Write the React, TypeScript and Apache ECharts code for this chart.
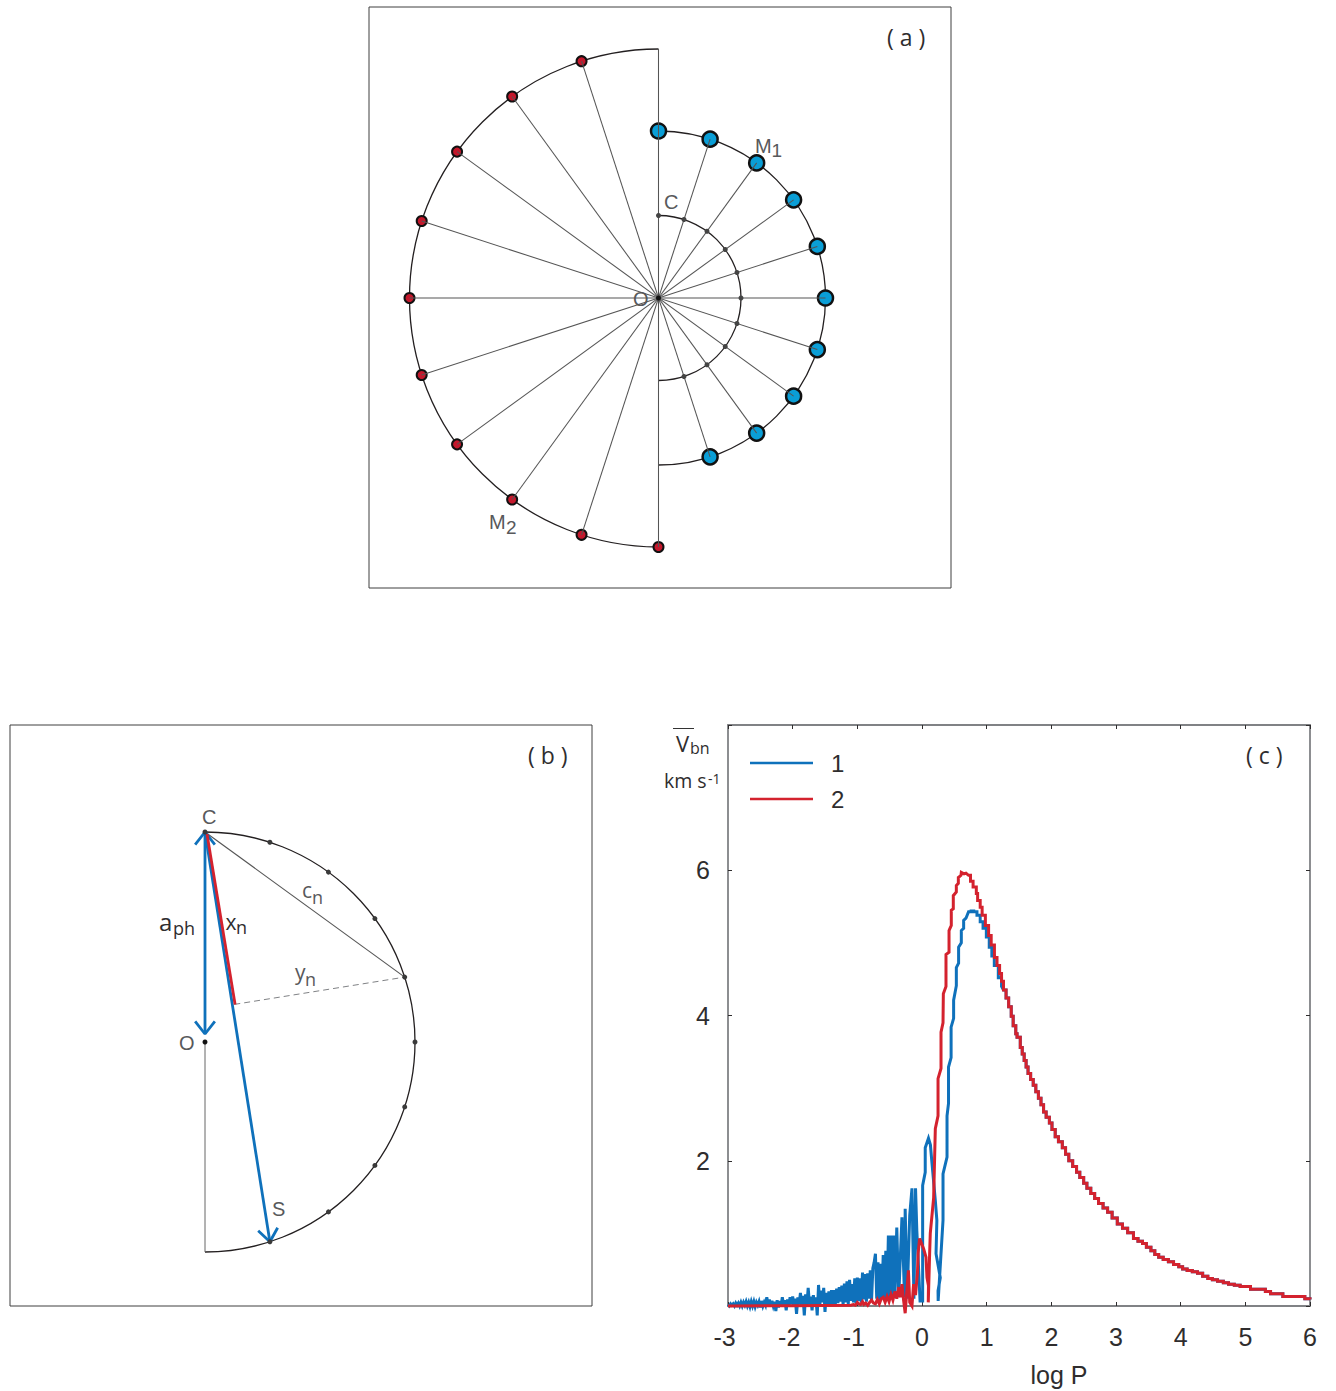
import React, { useEffect, useRef } from "react";
import * as echarts from "echarts";

// ---------- panel (a) and (b): orbit geometry, one unit = one picture pixel ----------
const phasesM1 = [0, 18, 36, 54, 72, 90, 108, 126, 144, 162];
const phasesM2 = [180, 198, 216, 234, 252, 270, 288, 306, 324, 342];
const radiusM1 = 167;
const radiusM2 = 249;
const radiusC = 82.5;
const radiusB = 210;
const phaseN = 72;
const phaseS = 162;

// ---------- panel (c) ----------
const xTickLabels = [-3, -2, -1, 0, 1, 2, 3, 4, 5, 6];
const yTickLabels = [2, 4, 6];
const blueNoiseStart = -3;
const blueNoiseStep = 0.02;
const blueNoiseV = [
  0.02, 0.0, 0.03, 0.01, 0.03, 0.0, 0.04, 0.01, 0.04, 0.0,
  0.05, 0.0, 0.05, 0.01, 0.06, 0.0, 0.05, -0.01, 0.06, 0.0,
  0.06, -0.01, 0.05, 0.01, 0.06, -0.02, 0.07, 0.0, 0.05, 0.01,
  0.12, 0.02, 0.09, -0.01, 0.07, 0.0, 0.06, -0.07, 0.08, -0.02,
  0.07, 0.0, 0.12, 0.01, 0.08, -0.06, 0.09, 0.0, 0.12, 0.02,
  0.13, 0.0, 0.1, -0.11, 0.12, 0.02, 0.18, 0.0, 0.14, -0.13,
  0.16, 0.01, 0.25, 0.02, 0.13, -0.06, 0.15, 0.0, 0.12, -0.13,
  0.29, 0.02, 0.21, 0.05, 0.25, -0.08, 0.18, 0.01, 0.2, 0.0,
  0.22, 0.01, 0.22, 0.03, 0.24, 0.04, 0.26, 0.06, 0.28, 0.02,
  0.31, 0.05, 0.34, 0.03, 0.36, 0.07, 0.3, 0.05, 0.38, 0.04,
  0.39, 0.07, 0.38, 0.05, 0.46, 0.09, 0.44, 0.06, 0.45, 0.1,
  0.49, 0.08, 0.52, 0.6, 0.72, 0.1, 0.6, 0.08, 0.58, 0.1,
  0.7, 0.09, 0.76, 0.12, 0.97, 0.1, 0.97, 0.14, 0.97, 0.12,
];
const blueRiseX = [-0.39, -0.36, -0.31, -0.27, -0.26, -0.23, -0.19, -0.155, -0.125, -0.1, -0.08, -0.03, 0.01, 0.01, 0.05, 0.05, 0.1, 0.13, 0.155, 0.206, 0.23, 0.217, 0.283, 0.248, 0.25, 0.325, 0.325, 0.387, 0.387, 0.41, 0.41, 0.45, 0.45, 0.489, 0.489, 0.531, 0.531, 0.566, 0.566, 0.608, 0.608, 0.644, 0.644, 0.68];
const blueRiseV = [1.08, 0.12, 1.22, 0.12, 1.34, 0.1, 1.25, 1.62, 0.1, 1.62, 1.04, 0.07, 0.07, 1.66, 1.84, 2.18, 2.31, 2.22, 1.96, 1.45, 1.18, 0.72, 0.39, 0.21, 0.07, 1.18, 1.82, 2.05, 2.62, 2.79, 3.29, 3.42, 3.84, 3.96, 4.21, 4.41, 4.66, 4.72, 4.94, 5.0, 5.17, 5.2, 5.31, 5.34];
const bluePeakX = [0.72, 0.76, 0.8, 0.85, 0.9, 0.944, 0.995, 1.04, 1.08, 1.118, 1.18, 1.23];
const bluePeakV = [5.43, 5.44, 5.43, 5.38, 5.29, 5.2, 5.08, 4.94, 4.82, 4.69, 4.52, 4.4];

const redRiseX = [-3, -2, -1.1, -1.06, -1.03, -1.0, -0.98, -0.95, -0.92, -0.9, -0.87, -0.84, -0.81, -0.78, -0.75, -0.72, -0.69, -0.66, -0.63, -0.6, -0.57, -0.54, -0.51, -0.48, -0.45, -0.42, -0.39, -0.36, -0.335, -0.31, -0.285, -0.26, -0.235, -0.21, -0.19, -0.155, -0.13, -0.1, -0.07, -0.06, -0.037, 0.025, 0.062, 0.077, 0.1, 0.097, 0.118, 0.128, 0.18, 0.206, 0.248, 0.248, 0.294, 0.294, 0.325, 0.33, 0.371, 0.371, 0.418, 0.418, 0.453, 0.453, 0.484, 0.484, 0.531, 0.531, 0.562, 0.562, 0.603, 0.608, 0.65, 0.68];
const redRiseV = [0.0, 0.005, 0.01, 0.02, 0.01, 0.05, 0.03, 0.02, 0.06, 0.02, 0.04, 0.01, 0.05, 0.08, 0.04, 0.03, 0.09, 0.03, 0.1, 0.12, 0.05, 0.13, 0.06, 0.16, 0.08, 0.2, 0.1, 0.26, 0.12, 0.3, 0.08, -0.1, 0.2, 0.49, 0.05, 0.0, 0.3, 0.15, 0.46, 0.72, 0.93, 0.79, 0.67, 0.39, 0.28, 0.05, 0.72, 1.0, 1.49, 2.44, 2.62, 3.13, 3.27, 3.77, 3.9, 4.3, 4.4, 4.84, 4.87, 5.17, 5.24, 5.45, 5.47, 5.65, 5.7, 5.79, 5.82, 5.9, 5.93, 5.97, 5.95, 5.96];

const declineX = [0.72, 0.75, 0.79, 0.84, 0.86, 0.9, 0.93, 0.98, 1.03, 1.07, 1.12, 1.16, 1.2, 1.23, 1.26, 1.3, 1.34, 1.38, 1.41, 1.45, 1.47, 1.52, 1.55, 1.58, 1.61, 1.64, 1.68, 1.72, 1.76, 1.8, 1.84, 1.88, 1.92, 1.97, 2.01, 2.06, 2.11, 2.17, 2.22, 2.27, 2.33, 2.39, 2.44, 2.5, 2.55, 2.61, 2.67, 2.73, 2.8, 2.87, 2.94, 3.02, 3.1, 3.18, 3.27, 3.34, 3.41, 3.47, 3.54, 3.6, 3.66, 3.73, 3.81, 3.89, 3.97, 4.03, 4.1, 4.18, 4.26, 4.34, 4.42, 4.49, 4.57, 4.66, 4.74, 4.83, 4.92, 5.08, 5.31, 5.39, 5.58, 5.92, 6.0];
const declineV = [5.93, 5.85, 5.77, 5.68, 5.585, 5.49, 5.38, 5.24, 5.1, 4.97, 4.8, 4.69, 4.58, 4.47, 4.35, 4.24, 4.12, 3.99, 3.86, 3.75, 3.7, 3.56, 3.47, 3.38, 3.29, 3.2, 3.12, 3.04, 2.95, 2.86, 2.77, 2.67, 2.6, 2.52, 2.43, 2.33, 2.26, 2.18, 2.09, 2.0, 1.92, 1.84, 1.77, 1.69, 1.62, 1.55, 1.48, 1.41, 1.35, 1.29, 1.21, 1.13, 1.07, 1.01, 0.93, 0.89, 0.86, 0.81, 0.76, 0.71, 0.67, 0.64, 0.61, 0.57, 0.54, 0.51, 0.49, 0.47, 0.45, 0.41, 0.38, 0.36, 0.34, 0.32, 0.3, 0.285, 0.27, 0.23, 0.2, 0.17, 0.13, 0.1, 0.09];

// ---------- styles ----------
const SANS = "Liberation Sans";
const MYRIAD = "Open Sans";
const GRAY_TXT = "#58595b";
const DARK_TXT = "#2f2d2e";
const BLUE = "#0f71bb";
const RED = "#d4222e";
const SPOKE = "#555555";

const polar = (r: number, deg: number): number[] => {
  const a = (deg * Math.PI) / 180;
  return [r * Math.sin(a), r * Math.cos(a)];
};
const stairs = (xs: number[], vs: number[]): number[][] => {
  const out: number[][] = [];
  xs.forEach((x, i) => {
    out.push([x, vs[i]]);
    if (i + 1 < xs.length) out.push([xs[i + 1], vs[i]]);
  });
  return out;
};
const zip = (xs: number[], vs: number[]) => xs.map((x, i) => [x, vs[i]]);

const arcRender = (stroke: string, width: number) => (_: any, api: any) => {
  const c = api.coord([api.value(0), api.value(1)]);
  const r = api.size([api.value(2), 0])[0];
  return {
    type: "arc",
    shape: {
      cx: c[0],
      cy: c[1],
      r,
      startAngle: ((api.value(3) - 90) * Math.PI) / 180,
      endAngle: ((api.value(4) - 90) * Math.PI) / 180,
      clockwise: true,
    },
    style: { stroke, lineWidth: width, fill: "none" },
  };
};
const arcSeries = (ax: number, data: number[][], z = 2) => ({
  type: "custom",
  xAxisIndex: ax,
  yAxisIndex: ax,
  silent: true,
  z,
  clip: false,
  encode: { x: 0, y: 1 },
  renderItem: arcRender("#231f20", 1.3),
  data,
});
const lineSeries = (ax: number, data: any[], color: string, width: number, z = 4, extra: any = {}) => ({
  type: "line",
  xAxisIndex: ax,
  yAxisIndex: ax,
  data,
  symbol: "none",
  silent: true,
  clip: false,
  z,
  lineStyle: { color, width, ...extra },
});
const dotSeries = (ax: number, data: number[][], size: number, color: string, border: string | null, z: number, bw = 2) => ({
  type: "scatter",
  xAxisIndex: ax,
  yAxisIndex: ax,
  data,
  symbolSize: size,
  silent: true,
  clip: false,
  z,
  itemStyle: border ? { color, borderColor: border, borderWidth: bw, opacity: 1 } : { color, opacity: 1 },
});
const arrowHead = (tip: number[], from: number[]): number[][] => {
  const ang = Math.atan2(from[1] - tip[1], from[0] - tip[0]);
  const half = (38 * Math.PI) / 180;
  const len = 16;
  return [
    [tip[0] + len * Math.cos(ang + half), tip[1] + len * Math.sin(ang + half)],
    tip,
    [tip[0] + len * Math.cos(ang - half), tip[1] + len * Math.sin(ang - half)],
  ];
};
const txt = (x: number, y: number, text: string, fontSize: number, fill: string, family = SANS) => ({
  type: "text",
  x,
  y,
  silent: true,
  style: { text, fontSize, fontFamily: family, fill, align: "left", verticalAlign: "middle" },
});

function buildOption() {
  const hiddenAxis = (gridIndex: number, min: number, max: number) => ({ type: "value", gridIndex, min, max, show: false });
  const boxAxis = (gridIndex: number, min: number, max: number, interval: number, position: string) => ({
    type: "value",
    gridIndex,
    min,
    max,
    interval,
    position,
    splitLine: { show: false },
    axisLine: { show: true, onZero: false, lineStyle: { color: "#808285", width: 1.8 } },
    axisTick: { show: true, inside: true, length: 4, lineStyle: { color: "#2f2d2e", width: 1 } },
    axisLabel: { show: false },
  });

  const xAxis: any[] = [
    hiddenAxis(0, -289.5, 292.5),
    hiddenAxis(1, -195, 387),
    {
      ...boxAxis(2, -3, 6, 1, "bottom"),
      name: "log P",
      nameLocation: "middle",
      nameGap: 56,
      nameTextStyle: { fontSize: 25, fontFamily: SANS, color: DARK_TXT, padding: [0, 0, 0, 80] },
      axisLabel: {
        show: true,
        margin: 18,
        fontSize: 25,
        fontFamily: SANS,
        color: DARK_TXT,
        formatter: (v: number) =>
          !xTickLabels.includes(v) ? "" : v < 0 ? `{neg|${v}}` : String(v),
        rich: { neg: { fontSize: 25, fontFamily: SANS, color: DARK_TXT, padding: [0, 7, 0, 0] } },
      },
    },
    boxAxis(2, -3, 6, 1, "top"),
  ];
  const yAxis: any[] = [
    hiddenAxis(0, -290, 291),
    hiddenAxis(1, -264, 317),
    {
      ...boxAxis(2, 0, 8, 2, "left"),
      axisLabel: {
        show: true,
        margin: 18,
        fontSize: 25,
        fontFamily: SANS,
        color: DARK_TXT,
        formatter: (v: number) => (yTickLabels.includes(v) ? String(v) : ""),
      },
    },
    boxAxis(2, 0, 8, 2, "right"),
  ];

  // panel (a)
  const aSeries: any[] = [
    arcSeries(0, [[0, 0, radiusM1, 0, 180], [0, 0, radiusM2, 180, 360], [0, 0, radiusC, 0, 180]]),
    dotSeries(0, phasesM1.map((p) => polar(radiusM1, p)), 15, "#0a9ed6", "#111111", 3, 2.5),
    dotSeries(0, phasesM2.map((p) => polar(radiusM2, p)), 10, "#c4182c", "#111111", 3, 2),
    ...phasesM1.map((p, i) =>
      lineSeries(0, [polar(p === 0 ? radiusM2 : radiusM1, p), polar(radiusM2, phasesM2[i])], SPOKE, 1.05)
    ),
    dotSeries(0, phasesM1.map((p) => polar(radiusC, p)), 5, "#444444", null, 5),
    dotSeries(0, [[0, 0]], 5, "#111111", null, 6),
  ];

  // panel (b)
  const C = polar(radiusB, 0);
  const O = [0, 0];
  const Pn = polar(radiusB, phaseN);
  const S = polar(radiusB, phaseS);
  const d = [S[0] - C[0], S[1] - C[1]];
  const t = ((Pn[0] - C[0]) * d[0] + (Pn[1] - C[1]) * d[1]) / (d[0] * d[0] + d[1] * d[1]);
  const foot = [C[0] + t * d[0], C[1] + t * d[1]];
  const aTip = [0, 8];
  const bSeries: any[] = [
    arcSeries(1, [[0, 0, radiusB, 0, 180]]),
    lineSeries(1, [O, polar(radiusB, 180)], "#666666", 1),
    lineSeries(1, [C, Pn], SPOKE, 1.1),
    lineSeries(1, [[foot[0] + 2, foot[1]], Pn], "#808285", 1, 4, { type: [6, 4] }),
    lineSeries(1, [C, S], BLUE, 2.8, 5),
    lineSeries(1, [[C[0] + 2, C[1] - 2], [foot[0] + 2.8, foot[1]]], RED, 2.8, 6),
    lineSeries(1, [C, aTip], BLUE, 2.8, 5),
    lineSeries(1, arrowHead(C, aTip), BLUE, 2.8, 5),
    lineSeries(1, arrowHead(aTip, C), BLUE, 2.8, 5),
    lineSeries(1, arrowHead(S, C), BLUE, 2.8, 5),
    dotSeries(1, phasesM1.map((p) => polar(radiusB, p)), 5, "#3a3a3a", null, 7),
    dotSeries(1, [O], 5, "#111111", null, 7),
  ];

  // panel (c)
  const tailStart = declineX.findIndex((x) => x >= 1.26);
  const blue = [
    ...blueNoiseV.map((v, i) => [blueNoiseStart + i * blueNoiseStep, v]),
    ...zip(blueRiseX, blueRiseV),
    ...stairs(bluePeakX, bluePeakV),
    ...stairs(declineX.slice(tailStart), declineV.slice(tailStart)),
  ];
  const red = [...zip(redRiseX, redRiseV), ...stairs(declineX, declineV)];
  const cSeries: any[] = [
    { ...lineSeries(2, blue, BLUE, 3, 8, { join: "miter" }), name: "1", itemStyle: { color: BLUE } },
    { ...lineSeries(2, red, RED, 3, 9, { join: "miter" }), name: "2", itemStyle: { color: RED } },
  ];

  const labels: any[] = [
    txt(887, 36.5, "( a )", 23, DARK_TXT, MYRIAD),
    txt(528, 754.5, "( b )", 23, DARK_TXT, MYRIAD),
    txt(1246, 754.5, "( c )", 23, DARK_TXT, MYRIAD),
    txt(755, 146, "M", 20, GRAY_TXT),
    txt(771.5, 150, "1", 19, GRAY_TXT),
    txt(664, 202, "C", 20, GRAY_TXT),
    txt(633, 299, "O", 20, GRAY_TXT),
    txt(489, 522, "M", 20, GRAY_TXT),
    txt(506, 527, "2", 19, GRAY_TXT),
    txt(202, 817, "C", 20, GRAY_TXT),
    txt(179, 1043, "O", 20, GRAY_TXT),
    txt(272, 1209, "S", 20, GRAY_TXT),
    txt(159, 921, "a", 24, DARK_TXT, MYRIAD),
    txt(173, 928, "ph", 18, DARK_TXT, MYRIAD),
    txt(225.5, 922, "x", 21, DARK_TXT, MYRIAD),
    txt(236, 927, "n", 18, DARK_TXT, MYRIAD),
    txt(302, 890, "c", 21, GRAY_TXT, MYRIAD),
    txt(312, 897, "n", 18, GRAY_TXT, MYRIAD),
    txt(295, 972, "y", 21, GRAY_TXT, MYRIAD),
    txt(305, 979, "n", 18, GRAY_TXT, MYRIAD),
    txt(676, 743, "V", 22, DARK_TXT, MYRIAD),
    txt(690, 748, "bn", 16, DARK_TXT, MYRIAD),
    txt(664, 780, "km s", 19.5, DARK_TXT, MYRIAD),
    txt(708, 778, "-1", 14, DARK_TXT, MYRIAD),
    {
      type: "line",
      silent: true,
      shape: { x1: 673, y1: 728.5, x2: 694, y2: 728.5 },
      style: { stroke: "#333333", lineWidth: 1 },
    },
  ];

  return {
    animation: false,
    backgroundColor: "#ffffff",
    grid: [
      { left: 369, top: 7, width: 582, height: 581, show: true, borderColor: "#3f3f3f", borderWidth: 1 },
      { left: 10, top: 725, width: 582, height: 581, show: true, borderColor: "#3f3f3f", borderWidth: 1 },
      { left: 728, top: 725, width: 582, height: 581 },
    ],
    xAxis,
    yAxis,
    legend: {
      data: [
        { name: "1", icon: "rect" },
        { name: "2", icon: "rect" },
      ],
      orient: "vertical",
      left: 750,
      top: 751,
      itemWidth: 63,
      itemHeight: 2.6,
      itemGap: 12,
      selectedMode: false,
      padding: 0,
      textStyle: { fontSize: 24, fontFamily: SANS, color: DARK_TXT, padding: [0, 0, 3, 13] },
    },
    series: [...aSeries, ...bSeries, ...cSeries],
    graphic: { elements: labels },
  };
}

export default function App() {
  const ref = useRef<HTMLDivElement | null>(null);
  useEffect(() => {
    const chart = echarts.init(ref.current as HTMLDivElement, undefined, { renderer: "svg" });
    chart.setOption(buildOption() as any);
    return () => chart.dispose();
  }, []);
  return (
    <div
      ref={ref}
      style={{ position: "absolute", left: 0, top: 0, width: 1336, height: 1391, background: "#fff" }}
    />
  );
}
